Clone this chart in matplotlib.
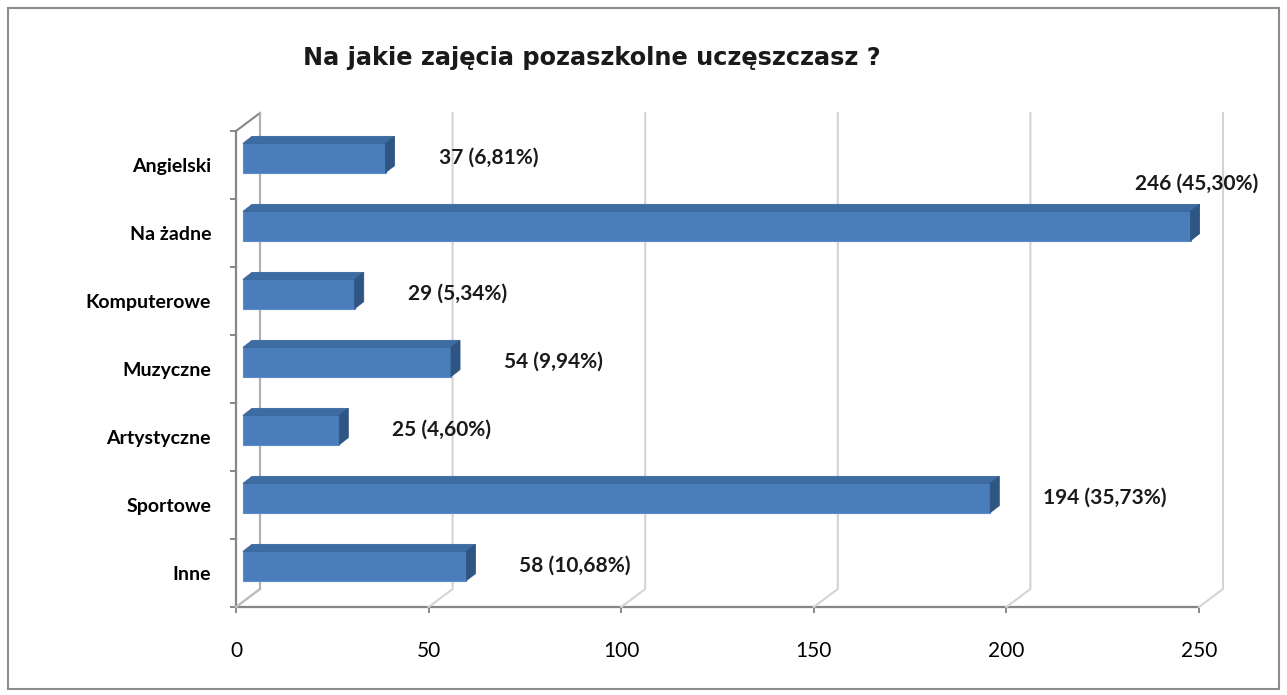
import matplotlib
matplotlib.use("Agg")
import matplotlib.pyplot as plt
from matplotlib.patches import Polygon, Rectangle
from matplotlib.lines import Line2D
from matplotlib.transforms import IdentityTransform

# ---- data ----
categories = ["Angielski", "Na żadne", "Komputerowe", "Muzyczne", "Artystyczne", "Sportowe", "Inne"]
counts = [37, 246, 29, 54, 25, 194, 58]
percents = ["6,81%", "45,30%", "5,34%", "9,94%", "4,60%", "35,73%", "10,68%"]
xticks = [0, 50, 100, 150, 200, 250]
title = "Na jakie zajęcia pozaszkolne uczęszczasz ?"

# ---- style ----
FONT = ["Lato", "DejaVu Sans"]
plt.rcParams["font.family"] = FONT
W, H, DPI = 1287, 695, 100
fig = plt.figure(figsize=(W / DPI, H / DPI), dpi=DPI)
fig.patch.set_facecolor("white")

# front plane of the axes in pixels
left_px, right_px, top_px, bot_px = 236, 1199, 131, 607
ax = fig.add_axes([left_px / W, 1 - bot_px / H, (right_px - left_px) / W, (bot_px - top_px) / H])
ax.set_xlim(0, 250)
n = len(categories)
ax.set_ylim(-0.5, n - 0.5)
ax.patch.set_alpha(0)

AXC = "#868686"
GRID = "#D4D4D4"
for s in ["top", "right"]:
    ax.spines[s].set_visible(False)
for s in ["left", "bottom"]:
    ax.spines[s].set_color(AXC)
    ax.spines[s].set_linewidth(1.6)

ax.set_xticks(xticks)
ax.set_xticklabels([str(t) for t in xticks], fontsize=15)
ax.tick_params(axis="x", length=4.5, width=1.4, color=AXC, pad=20)

ypos = [n - 1 - i for i in range(n)]
ax.set_yticks([k - 0.5 for k in range(n + 1)])
ax.set_yticklabels([])
ax.tick_params(axis="y", which="major", length=4.5, width=1.4, color=AXC)
ax.set_yticks(ypos, minor=True)
ax.set_yticklabels(categories, minor=True, fontsize=14, fontweight="bold")
ax.tick_params(axis="y", which="minor", length=0, pad=18)

fig.canvas.draw()
T = ax.transData
ID = IdentityTransform()

# wall depth offsets (pixels, display coords: y up)
WDX, WDY = 24, 18
# bar front plane offset from axis front plane
BFX, BFY = 7, 7
# bar depth
BDX, BDY = 9, 7
bar_h = 0.43

# back wall gridlines
y_bot = -0.5
y_top = n - 0.5
for t in xticks:
    x0, yb = T.transform((t, y_bot))
    _, yt = T.transform((t, y_top))
    fig.add_artist(Line2D([x0, x0 + WDX, x0 + WDX], [yb, yb + WDY, yt + WDY],
                          transform=ID, color=GRID, lw=1.5, zorder=1))
# left wall
x0, yt = T.transform((0, y_top))
fig.add_artist(Line2D([x0, x0 + WDX], [yt, yt + WDY], transform=ID, color=AXC, lw=1.5, zorder=1))
x0, yb = T.transform((0, y_bot))
fig.add_artist(Line2D([x0, x0 + WDX], [yb, yb + WDY], transform=ID, color="#BBBBBB", lw=1.5, zorder=1))
fig.add_artist(Line2D([x0 + WDX, x0 + WDX], [yb + WDY, yt + WDY], transform=ID, color="#B0B0B0", lw=1.5, zorder=1))

FRONT = "#4A7EBB"
TOPC = "#3D6CA3"
SIDE = "#2F5583"
EDGE = "#3A6598"

for y, v, p in zip(ypos, counts, percents):
    xa, ya = T.transform((0, y - bar_h / 2))
    xb, yb2 = T.transform((v, y + bar_h / 2))
    xa += BFX; xb += BFX; ya += BFY; yb2 += BFY
    # front face
    fig.add_artist(Polygon([[xa, ya], [xb, ya], [xb, yb2], [xa, yb2]], closed=True,
                           transform=ID, facecolor=FRONT, edgecolor="#5B8CC8", lw=0.8, zorder=3))
    # top face
    fig.add_artist(Polygon([[xa, yb2], [xb, yb2], [xb + BDX, yb2 + BDY], [xa + BDX, yb2 + BDY]],
                           closed=True, transform=ID, facecolor=TOPC, edgecolor=EDGE, lw=0.6, zorder=3))
    # side face
    fig.add_artist(Polygon([[xb, ya], [xb + BDX, ya + BDY], [xb + BDX, yb2 + BDY], [xb, yb2]],
                           closed=True, transform=ID, facecolor=SIDE, edgecolor=SIDE, lw=0.6, zorder=3))
    label = f"{v} ({p})"
    yc = (ya + yb2) / 2
    if v > 240:
        fig.text(xb + 68, yc + 42, label, transform=ID, ha="right", va="center",
                 fontsize=15, fontweight="bold", color="#1a1a1a")
    else:
        fig.text(xb + 53, yc, label, transform=ID, ha="left", va="center",
                 fontsize=15, fontweight="bold", color="#1a1a1a")

fig.text(592 / W, 1 - 58 / H, title, ha="center", va="center", fontsize=17.3,
         fontweight="bold", color="#1a1a1a", family=["DejaVu Sans"])

# outer border
fig.add_artist(Rectangle((8 / W, 6 / H), 1 - 16 / W, 1 - 14 / H, transform=fig.transFigure,
                         fill=False, edgecolor="#8C8C8C", lw=1.5))

fig.savefig("out.png", dpi=DPI)
